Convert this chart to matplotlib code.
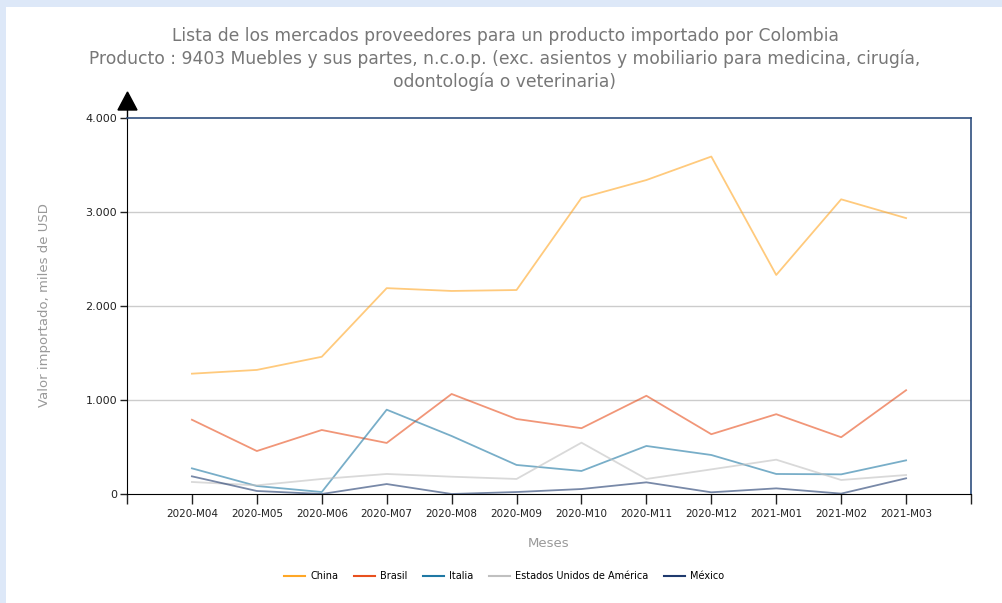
import matplotlib.pyplot as plt
from matplotlib.patches import Rectangle, Polygon

meses = ["2020-M04", "2020-M05", "2020-M06", "2020-M07", "2020-M08", "2020-M09",
         "2020-M10", "2020-M11", "2020-M12", "2021-M01", "2021-M02", "2021-M03"]

china = [1280, 1320, 1460, 2190, 2160, 2170, 3150, 3340, 3590, 2330, 3135, 2935]
brasil = [790, 457, 681, 543, 1064, 798, 700, 1045, 636, 849, 604, 1104]
italia = [273, 85, 21, 897, 617, 309, 245, 511, 415, 213, 209, 358]
eeuu = [128, 92, 160, 213, 184, 160, 546, 160, 262, 365, 149, 202]
mexico = [188, 32, 0, 106, 0, 21, 53, 124, 18, 60, 4, 167]

series = [
	("China", china, "#ffa726"),
	("Brasil", brasil, "#e8501e"),
	("Italia", italia, "#1f78a4"),
	("Estados Unidos de América", eeuu, "#c0c0c0"),
	("México", mexico, "#1f3a6e"),
]

W, H = 1003, 603
fig = plt.figure(figsize=(W / 100, H / 100), dpi=100)
fig.patch.set_facecolor("#dde8f8")
fig.patches.append(Rectangle((6 / W, 0), 1, 1 - 7 / H, transform=fig.transFigure,
                             facecolor="white", edgecolor="none", zorder=-5))

# axes box in pixels: x 127..971, y 118..494
ax = fig.add_axes([127 / W, 1 - 494 / H, (971 - 127) / W, (494 - 118) / H])
ax.set_facecolor("white")

x = list(range(len(meses)))
for name, vals, col in series:
	ax.plot(x, vals, color=col, alpha=0.6, linewidth=1.3, label=name)

ax.set_xlim(-1, len(meses))
ax.set_ylim(0, 4000)
ax.set_yticks([0, 1000, 2000, 3000, 4000])
ax.set_yticklabels(["0", "1.000", "2.000", "3.000", "4.000"], fontsize=8, color="#222222")
ax.set_xticks([-1] + x + [len(meses)])
ax.set_xticklabels([""] + meses + [""], fontsize=7.5, color="#222222")
ax.tick_params(axis="x", length=7, width=1, color="#222222", pad=4)
ax.tick_params(axis="y", length=5, width=1, color="#222222", pad=2)

for y in [1000, 2000, 3000]:
	ax.axhline(y, color="#cccccc", linewidth=1, zorder=0)

ax.spines["left"].set_color("black")
ax.spines["bottom"].set_color("black")
ax.spines["top"].set_color("#2f4f7f")
ax.spines["right"].set_color("#2f4f7f")
ax.spines["top"].set_linewidth(1.2)
ax.spines["right"].set_linewidth(1.2)

# arrow head on top of the y axis
ax.plot([127 / W, 127 / W], [1 - 118 / H, 1 - 108 / H], color="black", lw=1,
        transform=fig.transFigure, clip_on=False)
fig.patches.append(Polygon([(118 / W, 1 - 110 / H), (137 / W, 1 - 110 / H), (127.5 / W, 1 - 92 / H)],
                           closed=True, transform=fig.transFigure, facecolor="black",
                           edgecolor="black", zorder=5))

ax.set_xlabel("Meses", fontsize=9.5, color="#999999", labelpad=13)
fig.text(45 / W, 1 - 305 / H, "Valor importado, miles de USD", rotation=90,
         ha="center", va="center", fontsize=9.5, color="#999999")

fig.text(505 / W, 1 - 59 / H,
         "Lista de los mercados proveedores para un producto importado por Colombia\n"
         "Producto : 9403 Muebles y sus partes, n.c.o.p. (exc. asientos y mobiliario para medicina, cirugía,\n"
         "odontología o veterinaria)",
         ha="center", va="center", fontsize=12.3, color="#777777", linespacing=1.3)

handles = [plt.Line2D([0], [0], color=c, linewidth=1.5) for _, _, c in series]
fig.legend(handles, [n for n, _, _ in series], loc="center", bbox_to_anchor=(504 / W, 1 - 576 / H),
           ncol=5, frameon=False, fontsize=7, handlelength=2.2, handletextpad=0.5,
           columnspacing=1.6)

fig.savefig("out.png", dpi=100, facecolor=fig.get_facecolor())
